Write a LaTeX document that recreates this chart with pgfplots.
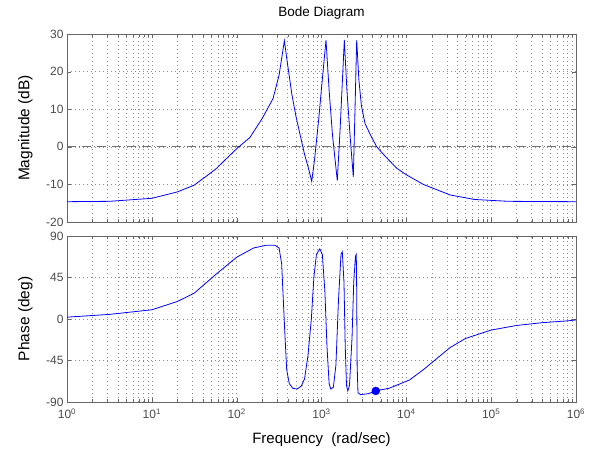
\documentclass[border=0pt]{standalone}
\usepackage{pgfplots}
\pgfplotsset{compat=1.18}
\usepackage{fontspec}
\setmainfont{Liberation Sans}
\definecolor{mblue}{RGB}{0,0,255}
\begin{document}
\begin{tikzpicture}
\useasboundingbox (0pt,0pt) rectangle (592pt,456pt);
\begin{axis}[at={(67pt,234pt)}, anchor=south west,
  scale only axis, width=509pt, height=188pt,
  xmode=log, xmin=1, xmax=1e6,
  grid=both,
  major grid style={black!45, line width=0.6pt, dash pattern=on 0.8pt off 3.2pt},
  minor grid style={black!45, line width=0.6pt, dash pattern=on 0.8pt off 3.2pt},
  tick align=inside,
  axis line style={black!60, line width=0.8pt},
  tick style={black!60},
  xtick={1,10,100,1000,10000,100000,1000000},
  tick label style={font=\fontsize{12}{14}\selectfont, text=black!70},
  ylabel style={at={(axis description cs:-0.082,0.5)}, anchor=center, font=\fontsize{15.5}{18}\selectfont},
  ymin=-20, ymax=30, ytick={-20,-10,0,10,20,30},
  xticklabels={},
  ylabel={Magnitude (dB)},
  title={Bode Diagram},
  title style={at={(axis description cs:0.5,1.08)}, anchor=center, font=\fontsize{13.5}{16}\selectfont},
  /pgf/number format/assume math mode=true,
]
\addplot[black!55, line width=0.8pt, dash pattern=on 9pt off 2.5pt on 1pt off 2.5pt] coordinates {(1,0) (1e6,0)};
\addplot[mblue, line width=0.8pt] coordinates {
(1,-14.6) (3.16,-14.5) (10,-13.7) (20,-12) (31.6,-10.2) (56.2,-6) (100,-0.5)
(143.5,2.5) (199.5,7.5) (268,12.8) (316,19) (365,28.2)
(398,22) (447,14) (501,8) (562,3) (631,-2) (708,-6) (767,-9.2)
(832,-3) (933,8) (1023,18) (1130,28.4)
(1230,15) (1349,3) (1535,-9)
(1660,5) (1858,28.4)
(1995,15) (2188,2) (2371,-8)
(2483,10) (2600,28.4)
(2754,18) (2951,11) (3258,6.2) (3802,3) (4477,0) (5623,-2.5) (7709,-5.7)
(10093,-7.5) (15849,-10) (32734,-12.8) (63096,-14) (158489,-14.5) (1000000,-14.6)
};
\end{axis}
\begin{axis}[at={(67pt,54pt)}, anchor=south west,
  scale only axis, width=509pt, height=166pt,
  xmode=log, xmin=1, xmax=1e6,
  grid=both,
  major grid style={black!45, line width=0.6pt, dash pattern=on 0.8pt off 3.2pt},
  minor grid style={black!45, line width=0.6pt, dash pattern=on 0.8pt off 3.2pt},
  tick align=inside,
  axis line style={black!60, line width=0.8pt},
  tick style={black!60},
  xtick={1,10,100,1000,10000,100000,1000000},
  tick label style={font=\fontsize{12}{14}\selectfont, text=black!70},
  ylabel style={at={(axis description cs:-0.082,0.5)}, anchor=center, font=\fontsize{15.5}{18}\selectfont},
  ymin=-90, ymax=90, ytick={-90,-45,0,45,90},
  xticklabels={10\textsuperscript{0},10\textsuperscript{1},10\textsuperscript{2},10\textsuperscript{3},10\textsuperscript{4},10\textsuperscript{5},10\textsuperscript{6}},
  xticklabel style={font=\fontsize{12}{14}\selectfont, yshift=-3pt},
  ylabel={Phase (deg)},
  xlabel={Frequency\ \ (rad/sec)},
  xlabel style={at={(axis description cs:0.5,-0.229)}, anchor=center, font=\fontsize{15}{18}\selectfont},
  /pgf/number format/assume math mode=true,
]
\addplot[mblue, line width=0.8pt] coordinates {
(1,2) (3.16,5) (10,10) (20,19) (31.6,28) (56.2,48) (100,67) (158.5,77) (224,80)
(282,80) (316,77) (339,60) (355,20) (372,-20) (389,-55) (417,-70) (457,-75)
(513,-76) (575,-73) (631,-65) (692,-40) (759,0) (813,45) (871,70) (955,76)
(1023,70) (1096,30) (1161,-30) (1230,-70) (1288,-76) (1380,-74) (1479,-50)
(1585,20) (1698,70) (1758,73) (1841,40) (1905,-30) (1972,-72) (2042,-78)
(2138,-72) (2291,-20) (2399,40) (2512,68) (2570,70) (2600,30) (2630,-50)
(2692,-80) (2884,-82) (3548,-81) (4365,-78) (6310,-75) (10965,-66) (15849,-55)
(32734,-31) (50119,-21) (100000,-12) (199526,-7) (398107,-4) (794328,-2) (1000000,-1)
};
\addplot[mblue, only marks, mark=*, mark size=4pt] coordinates {(4365,-78)};
\end{axis}
\end{tikzpicture}
\end{document}
